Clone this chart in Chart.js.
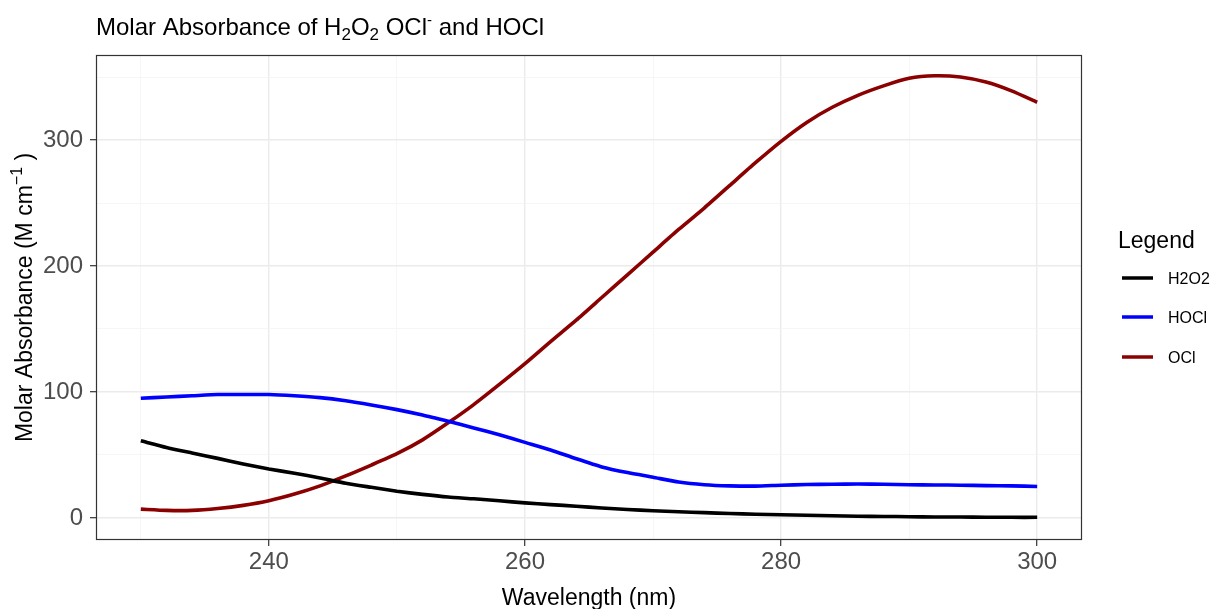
<!DOCTYPE html>
<html><head><meta charset="utf-8">
<script src="https://cdn.jsdelivr.net/npm/chart.js@4.4.1/dist/chart.umd.min.js"></script>
<style>html,body{margin:0;padding:0;background:#fff}#wrap{position:relative;width:1212px;height:609px}</style>
</head><body><div id="wrap"><canvas id="c" width="1212" height="609"></canvas></div>
<script>
const wavelengths = [230,232,234,236,238,240,242,244,246,248,250,252,254,256,258,260,262,264,266,268,270,272,274,276,278,280,282,284,286,288,290,292,294,296,298,300];
const h2o2 = [61.3,56,51.6,47.3,42.9,38.9,35.5,31.7,27.5,24.3,21.2,18.7,16.6,15.2,13.6,12.0,10.6,9.3,7.9,6.7,5.7,4.9,4.2,3.5,3.0,2.6,2.1,1.8,1.4,1.2,1.0,0.8,0.7,0.6,0.5,0.5];
const hocl = [95,96,97,98,98,98,97,95.5,93,89.7,86,81.7,76.7,71.5,66,60,54,47,40.5,36,32.3,28.5,26.4,25.5,25.3,26.0,26.5,26.8,26.9,26.7,26.4,26.2,26,25.7,25.5,25];
const ocl = [7,6,6,7.5,10,13.7,19,25.5,33.4,42,51,62,75.5,90,106,122.5,140,157,175,193,211,229,246,264,282,299,314,326,335.5,343,349,351,350,346,339,330];
const seriesNames = ['H2O2','HOCl','OCl'];
const seriesColors = ['#000000','#0000FF','#8B0000'];
const xMajorTicks = [240,260,280,300];
const xAllTicks = [230,240,250,260,270,280,290,300];
const yMajorTicks = [0,100,200,300];
const yAllTicks = [0,50,100,150,200,250,300,350];

const FONT = '"Liberation Sans", Arial, sans-serif';
const toPts = arr => arr.map((v,i)=>({x: wavelengths[i], y: v}));

function drawRich(ctx, x, y, segs, align) {
  let total = 0;
  segs.forEach(s => { ctx.font = s.size + 'px ' + FONT; s.w = ctx.measureText(s.text).width; total += s.w; });
  let cx = align === 'center' ? x - total/2 : x;
  segs.forEach(s => { ctx.font = s.size + 'px ' + FONT; ctx.fillText(s.text, cx, y + (s.dy||0)); cx += s.w; });
}

const decor = {
  id: 'decor',
  afterDraw(chart) {
    const ctx = chart.ctx, a = chart.chartArea;
    ctx.save();
    ctx.strokeStyle = '#333333'; ctx.lineWidth = 1.2;
    ctx.strokeRect(a.left + 0.5, a.top + 0.5, a.right - a.left - 1, a.bottom - a.top - 1);
    ctx.fillStyle = '#000'; ctx.textBaseline = 'alphabetic'; ctx.textAlign = 'left';
    drawRich(ctx, 96, 35, [
      {text:'Molar Absorbance of H', size:24},
      {text:'2', size:17, dy:5},
      {text:'O', size:24},
      {text:'2', size:17, dy:5},
      {text:' OCl', size:24},
      {text:'-', size:15, dy:-10},
      {text:' and HOCl', size:24}
    ]);
    drawRich(ctx, (a.left + a.right)/2, 605, [{text:'Wavelength (nm)', size:23}], 'center');
    ctx.save();
    ctx.translate(32, (a.top + a.bottom)/2);
    ctx.rotate(-Math.PI/2);
    drawRich(ctx, 0, 0, [
      {text:'Molar Absorbance (M cm', size:23},
      {text:'\u22121', size:16, dy:-10},
      {text:' )', size:23}
    ], 'center');
    ctx.restore();
    drawRich(ctx, 1118, 248, [{text:'Legend', size:23}]);
    const ys = [278, 317, 357];
    seriesNames.forEach((n,i) => {
      ctx.strokeStyle = seriesColors[i]; ctx.lineWidth = 3.5; ctx.lineCap = 'butt';
      ctx.beginPath(); ctx.moveTo(1122, ys[i]); ctx.lineTo(1153, ys[i]); ctx.stroke();
      ctx.fillStyle = '#000';
      drawRich(ctx, 1168, ys[i] + 6, [{text:n, size:16}]);
    });
    ctx.restore();
  }
};

const gridOpts = (majors) => ({
  color: c => majors.includes(c.tick && c.tick.value) ? '#EBEBEB' : '#F4F4F4',
  lineWidth: c => majors.includes(c.tick && c.tick.value) ? 1.4 : 0.8,
  tickColor: c => majors.includes(c.tick && c.tick.value) ? '#333333' : 'rgba(0,0,0,0)',
  tickWidth: 1.2,
  tickLength: 6,
  drawTicks: true
});

new Chart(document.getElementById('c'), {
  type: 'line',
  data: {
    datasets: [h2o2, hocl, ocl].map((d,i) => ({
      label: seriesNames[i],
      data: toPts(d),
      borderColor: seriesColors[i],
      backgroundColor: seriesColors[i],
      borderWidth: 3.6,
      pointRadius: 0,
      tension: 0.2,
      fill: false
    }))
  },
  options: {
    responsive: false,
    animation: false,
    devicePixelRatio: 1,
    layout: { padding: { left: 0, top: 55, right: 130, bottom: 0 } },
    plugins: { legend: { display: false }, title: { display: false }, tooltip: { enabled: false } },
    scales: {
      x: {
        type: 'linear', min: 226.5, max: 303.5,
        afterBuildTicks: s => { s.ticks = xAllTicks.map(v => ({value: v})); },
        afterFit: s => { s.height = 69; },
        border: { display: false },
        grid: gridOpts(xMajorTicks),
        ticks: {
          autoSkip: false, maxRotation: 0, padding: 2,
          color: '#4D4D4D', font: { family: FONT, size: 24 },
          callback: v => xMajorTicks.includes(v) ? String(v) : ''
        }
      },
      y: {
        type: 'linear', min: -17.5, max: 367.5,
        afterBuildTicks: s => { s.ticks = yAllTicks.map(v => ({value: v})); },
        afterFit: s => { s.width = 96; },
        border: { display: false },
        grid: gridOpts(yMajorTicks),
        ticks: {
          autoSkip: false, padding: 7,
          color: '#4D4D4D', font: { family: FONT, size: 24 },
          callback: v => yMajorTicks.includes(v) ? String(v) : ''
        }
      }
    }
  },
  plugins: [decor]
});
</script>
</body></html>
